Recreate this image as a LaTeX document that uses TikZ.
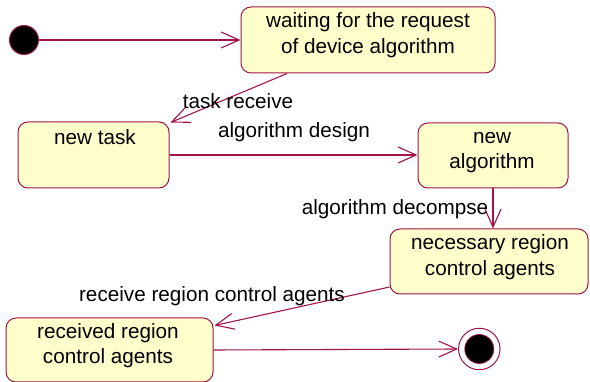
\documentclass[tikz,border=0pt]{standalone}
\usepackage{fontspec}
\setmainfont{Liberation Sans}
\usetikzlibrary{arrows.meta,calc}
\definecolor{edgered}{HTML}{A0144A}
\definecolor{statefill}{HTML}{FFFFCC}
\tikzset{
  x=1pt, y=-1pt,
  statebox/.style={draw=edgered, fill=statefill, line width=1pt,
    rounded corners=10pt, inner sep=0pt},
  txt/.style={font=\fontsize{20.7}{25.5}\selectfont, align=center,
    inner sep=0pt, text=black},
  tr/.style={draw=edgered, line width=1.1pt,
    -{Straight Barb[length=18pt, width=16pt, line width=1.1pt]}},
}
\begin{document}
\begin{tikzpicture}
\useasboundingbox (0,0) rectangle (590,382);

% initial and final pseudo-states
\node[circle, fill=black, draw=edgered, line width=1pt,
  minimum size=29pt, inner sep=0pt] (init) at (24,40) {};
\node[circle, fill=white, draw=edgered, line width=1pt,
  minimum size=41.5pt, inner sep=0pt] (final) at (479.3,349) {};
\node[circle, fill=black, draw=edgered, line width=0.7pt,
  minimum size=29pt, inner sep=0pt] (finalin) at (final.center) {};

% states
\node[statebox, minimum width=254pt, minimum height=66pt] (wait) at (368,40) {};
\node[txt] (waitT) at (368,35) {waiting for the request\\ of device algorithm};

\node[statebox, minimum width=151pt, minimum height=66pt] (newtask) at (93.5,155) {};
\node[txt] (newtaskT) at (95,137.5) {new task};

\node[statebox, minimum width=150pt, minimum height=65pt] (newalg) at (493,155.5) {};
\node[txt] (newalgT) at (492,152.5) {new\\ algorithm};

\node[statebox, minimum width=198pt, minimum height=65pt] (necess) at (489,261.5) {};
\node[txt] (necessT) at (490,257) {necessary region\\ control agents};

\node[statebox, minimum width=207pt, minimum height=64pt] (recv) at (109.5,350) {};
\node[txt] (recvT) at (108,345.5) {received region\\ control agents};

% transitions
\draw[tr] (init.east) -- (wait.west);
\draw[tr] ([xshift=-81pt]wait.south) -- ([xshift=1pt,yshift=-1pt]newtask.north east);
\draw[tr] (newtask.east) -- (newtask.east -| newalg.west);
\draw[tr] (newalg.south) -- (newalg.south |- necess.north);
\draw[tr] ([yshift=-25.5pt]necess.west) -- ([xshift=1pt,yshift=-8pt]recv.north east);
\draw[tr] (recv.east) -- (final.west);

% transition labels
\node[txt] (lblA) at (238,101.5) {task receive};
\node[txt] (lblB) at (294,132.5) {algorithm design};
\node[txt] (lblC) at (395,209.5) {algorithm decompse};
\node[txt] (lblD) at (212,296.5) {receive region control agents};
\end{tikzpicture}
\end{document}
